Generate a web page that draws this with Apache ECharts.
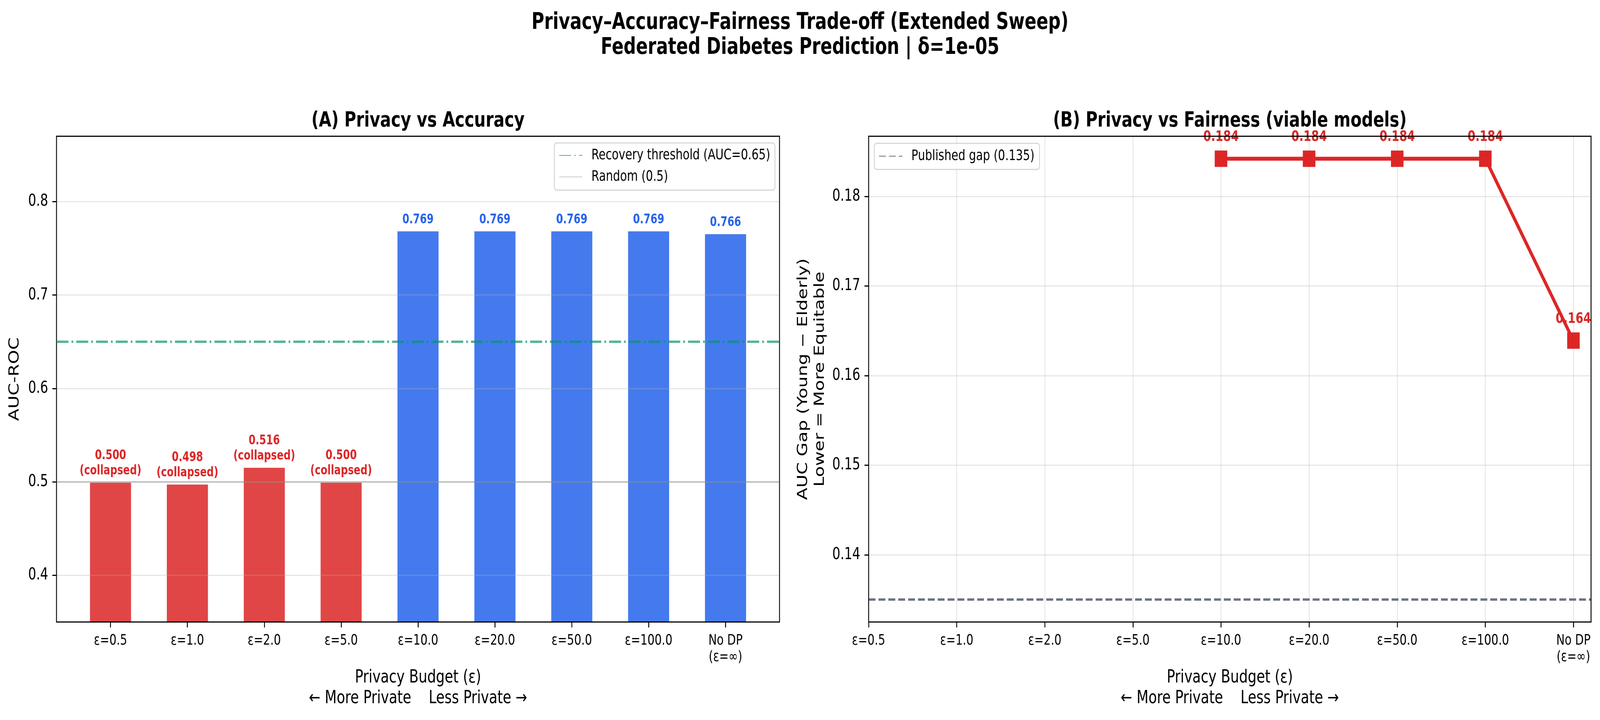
<!DOCTYPE html>
<html>
<head>
<meta charset="utf-8">
<script src="https://cdn.jsdelivr.net/npm/echarts@6/dist/echarts.min.js"></script>
<style>
html,body{margin:0;padding:0;background:#fff;overflow:hidden;}
#wrap{position:relative;overflow:hidden;}
#chart{position:absolute;left:0;top:0;width:5351px;height:1844px;transform-origin:0 0;}
</style>
</head>
<body>
<div id="wrap"><div id="chart"></div></div>
<script>
// ---------------- DATA ----------------
const CATEGORIES = ['ε=0.5', 'ε=1.0', 'ε=2.0', 'ε=5.0', 'ε=10.0', 'ε=20.0', 'ε=50.0', 'ε=100.0', 'No DP\n(ε=∞)'];
const AUC_ROC = [0.500, 0.498, 0.516, 0.500, 0.769, 0.769, 0.769, 0.769, 0.766];
const FAIRNESS_GAP = [null, null, null, null, 0.1842, 0.1842, 0.1842, 0.1842, 0.1639];
const RECOVERY_THRESHOLD = 0.65;
const RANDOM_AUC = 0.5;
const PUBLISHED_GAP = 0.135;
const CAT_TICKS = [0, 1, 2, 3, 4, 5, 6, 7, 8];
const AUC_TICKS = [0.4, 0.5, 0.6, 0.7, 0.8];
const GAP_TICKS = [0.14, 0.15, 0.16, 0.17, 0.18];

// ---------------- TEXT ----------------
const SUPTITLE = 'Privacy–Accuracy–Fairness Trade-off (Extended Sweep)\nFederated Diabetes Prediction | δ=1e-05';
const TITLE_A = '(A) Privacy vs Accuracy';
const TITLE_B = '(B) Privacy vs Fairness (viable models)';
const X_NAME = 'Privacy Budget (ε)\n← More Private    Less Private →';
const Y_NAME_A = 'AUC-ROC';
const Y_NAME_B = 'AUC Gap (Young − Elderly)\nLower = More Equitable';
const THRESH_NAME = 'Recovery threshold (AUC=' + RECOVERY_THRESHOLD + ')';
const RANDOM_NAME = 'Random (' + RANDOM_AUC + ')';
const PUB_NAME = 'Published gap (' + PUBLISHED_GAP + ')';

// ---------------- LAYOUT / STYLE ----------------
const W = 5351, H = 1844;
const FONT = 'DejaVu Sans';
const GA = {left: 189, top: 349, width: 2418, height: 1244};
const GB = {left: 2905, top: 349, width: 2416, height: 1244};
const AX_A = [-0.7025, 8.7025], AY_A = [0.35, 0.87];
const AX_B = [0, 8.2], AY_B = [0.1325, 0.1867];
const BAR_FRAC = 0.55;
const RED = '#dc2626', BLUE = '#2563eb';
const RED_FILL = 'rgba(220,38,38,0.85)', BLUE_FILL = 'rgba(37,99,235,0.85)';
const GREEN_A = 'rgba(5,150,105,0.7)';
const GRAY_A = 'rgba(128,128,128,0.4)';
const SLATE = '#6b7280';
const GRID_LINE = 'rgba(176,176,176,0.3)';

// fit the 5351x1844 design into the actual window
const wrap = document.getElementById('wrap');
const el = document.getElementById('chart');
const vw = window.innerWidth || W, vh = window.innerHeight || H;
const sx = vw / W, sy = vh / H;
wrap.style.width = vw + 'px';
wrap.style.height = vh + 'px';
el.style.transform = 'scale(' + sx + ',' + sy + ')';
const chart = echarts.init(el, null, {renderer: 'canvas', devicePixelRatio: 1});

function xAxisCfg(gi, range, split) {
  return {
    gridIndex: gi, type: 'value', min: range[0], max: range[1],
    axisLine: {show: false, onZero: false},
    axisTick: {show: true, customValues: CAT_TICKS, length: 14, lineStyle: {color: '#000', width: 3}},
    axisLabel: {customValues: CAT_TICKS, formatter: v => CATEGORIES[Math.round(v)], fontSize: 37.5, lineHeight: 42,
      color: '#000', margin: 27, fontFamily: FONT},
    splitLine: {show: split, lineStyle: {color: GRID_LINE, width: 3}},
    name: X_NAME, nameLocation: 'middle', nameGap: 117,
    nameTextStyle: {fontSize: 46, lineHeight: 53, color: '#000', fontFamily: FONT}
  };
}
function yAxisCfg(gi, range, ticks, digits, name, gap, lh, z) {
  return {
    gridIndex: gi, type: 'value', min: range[0], max: range[1], z: z,
    axisLine: {show: false, onZero: false},
    axisTick: {show: true, customValues: ticks, length: 14, lineStyle: {color: '#000', width: 3}},
    axisLabel: {customValues: ticks, formatter: v => v.toFixed(digits), fontSize: 42, color: '#000', margin: 28, fontFamily: FONT},
    splitLine: {show: true, lineStyle: {color: GRID_LINE, width: 3}},
    name: name, nameLocation: 'middle', nameGap: gap,
    nameTextStyle: {fontSize: 46, lineHeight: lh, color: '#000', fontFamily: FONT}
  };
}
function refLine(name, xi, xr, value, color, width, type, z) {
  return {
    type: 'line', name: name, xAxisIndex: xi, yAxisIndex: xi, z: z,
    data: [[xr[0], value], [xr[1], value]],
    symbol: 'none', showSymbol: false, silent: true,
    itemStyle: {color: color},
    lineStyle: {color: color, width: width, type: type}
  };
}

const barWidthA = BAR_FRAC * GA.width / (AX_A[1] - AX_A[0]);
const legendCommon = {
  orient: 'vertical', itemWidth: 78, itemHeight: 20, itemGap: 15,
  backgroundColor: 'rgba(255,255,255,0.8)', borderColor: '#d6d6d6', borderWidth: 3, borderRadius: 8,
  selectedMode: false,
  itemStyle: {color: 'rgba(0,0,0,0)', borderColor: 'rgba(0,0,0,0)', borderWidth: 0},
  textStyle: {fontSize: 37.5, lineHeight: 40, color: '#000', fontFamily: FONT, padding: [0, 0, 0, 25]}
};

const option = {
  animation: false,
  backgroundColor: '#fff',
  textStyle: {fontFamily: FONT},
  title: [
    {text: SUPTITLE, left: 'center', top: 27, padding: 0,
      textStyle: {fontSize: 58, fontWeight: 'bold', lineHeight: 64, color: '#000', fontFamily: FONT}},
    {text: TITLE_A, left: GA.left + GA.width / 2, textAlign: 'center', top: 283, padding: 0,
      textStyle: {fontSize: 54, fontWeight: 'bold', lineHeight: 54, color: '#000', fontFamily: FONT}},
    {text: TITLE_B, left: GB.left + GB.width / 2, textAlign: 'center', top: 283, padding: 0,
      textStyle: {fontSize: 54, fontWeight: 'bold', lineHeight: 54, color: '#000', fontFamily: FONT}}
  ],
  legend: [
    Object.assign({data: [THRESH_NAME, RANDOM_NAME], left: 1854, top: 366, padding: [12, 16, 14, 15]}, legendCommon),
    Object.assign({data: [PUB_NAME], left: 2924, top: 367, padding: [13, 17, 14, 15]}, legendCommon)
  ],
  grid: [
    Object.assign({show: true, borderColor: '#000', borderWidth: 3, backgroundColor: 'transparent', z: 4}, GA),
    Object.assign({show: true, borderColor: '#000', borderWidth: 3, backgroundColor: 'transparent', z: 4}, GB)
  ],
  xAxis: [xAxisCfg(0, AX_A, false), xAxisCfg(1, AX_B, true)],
  yAxis: [
    yAxisCfg(0, AY_A, AUC_TICKS, 1, Y_NAME_A, 112, 54, 3),
    yAxisCfg(1, AY_B, GAP_TICKS, 2, Y_NAME_B, 134, 56, 0)
  ],
  series: [
    {
      type: 'bar', xAxisIndex: 0, yAxisIndex: 0, barWidth: barWidthA, z: 2,
      data: AUC_ROC.map((v, i) => {
        const collapsed = v < RECOVERY_THRESHOLD;
        return {value: [i, v], itemStyle: {color: collapsed ? RED_FILL : BLUE_FILL}, label: {color: collapsed ? RED : BLUE}};
      }),
      itemStyle: {borderColor: '#fff', borderWidth: 2},
      label: {
        show: true, position: 'top', distance: 8, fontSize: 33, lineHeight: 39, fontWeight: 'bold', fontFamily: FONT,
        formatter: p => p.value[1] < RECOVERY_THRESHOLD ? p.value[1].toFixed(3) + '\n(collapsed)' : p.value[1].toFixed(3)
      }
    },
    refLine(THRESH_NAME, 0, AX_A, RECOVERY_THRESHOLD, GREEN_A, 6, [40, 10, 6, 10], 5),
    refLine(RANDOM_NAME, 0, AX_A, RANDOM_AUC, GRAY_A, 4, 'solid', 5),
    refLine(PUB_NAME, 1, AX_B, PUBLISHED_GAP, SLATE, 6, [23, 10], 2),
    {
      type: 'line', xAxisIndex: 1, yAxisIndex: 1, z: 3,
      data: FAIRNESS_GAP.map((v, i) => v == null ? null : [i, v]).filter(d => d !== null),
      symbol: 'rect', symbolSize: 42, showSymbol: true,
      lineStyle: {color: RED, width: 10},
      itemStyle: {color: RED},
      label: {show: true, position: 'top', distance: 15, fontSize: 37.5, fontWeight: 'bold', color: RED, fontFamily: FONT,
        formatter: p => p.value[1].toFixed(3)}
    }
  ]
};
chart.setOption(option);
</script>
</body>
</html>
